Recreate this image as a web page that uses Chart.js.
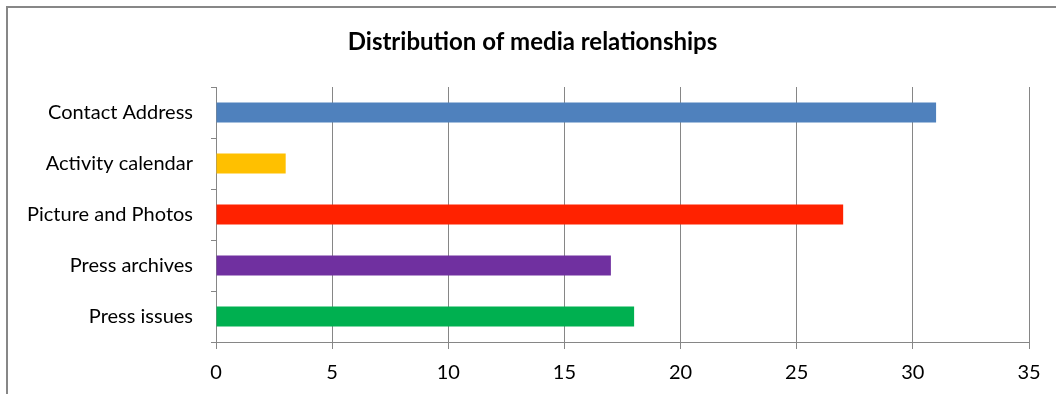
<!DOCTYPE html>
<html>
<head>
<meta charset="utf-8">
<script src="https://cdn.jsdelivr.net/npm/chart.js@4/dist/chart.umd.min.js"></script>
<style>
  html, body { margin: 0; padding: 0; background: #fff; overflow: hidden; }
  #wrap { position: relative; width: 1056px; height: 394px; }
  #frame { position: absolute; left: 6px; top: 6px; width: 2000px; height: 1000px;
           border-left: 2px solid #878787; border-top: 2px solid #878787; pointer-events: none; }
</style>
</head>
<body>
<div id="wrap">
  <canvas id="c" width="1056" height="394"></canvas>
  <div id="frame"></div>
</div>
<script>
const categories = ["Contact Address", "Activity calendar", "Picture and Photos", "Press archives", "Press issues"];
const values = [31, 3, 27, 17, 18];
const barColors = ["#4F81BD", "#FFC000", "#FF2200", "#7030A0", "#00B050"];
const xTicks = [0, 5, 10, 15, 20, 25, 30, 35];
const titleText = "Distribution of media relationships";

const FONT = "Lato, 'Open Sans', sans-serif";

// shift the title box so the title is centred like the reference
const titleShift = {
  id: "titleShift",
  afterLayout(chart) {
    if (chart.titleBlock) { chart.titleBlock.left = 36; }
  }
};

new Chart(document.getElementById("c"), {
  type: "bar",
  data: {
    labels: categories,
    datasets: [{
      data: values,
      backgroundColor: barColors,
      borderWidth: 0,
      categoryPercentage: 1,
      barPercentage: 0.39
    }]
  },
  plugins: [titleShift],
  options: {
    indexAxis: "y",
    responsive: false,
    animation: false,
    devicePixelRatio: 1,
    layout: { padding: { left: 0, right: 27, top: 0, bottom: 0 } },
    plugins: {
      legend: { display: false },
      tooltip: { enabled: false },
      title: {
        display: true,
        text: titleText,
        color: "#000",
        font: { family: FONT, size: 24, weight: "bold", lineHeight: 1.2 },
        padding: { top: 28, bottom: 30.2 }
      }
    },
    scales: {
      x: {
        min: xTicks[0],
        max: xTicks[xTicks.length - 1],
        afterBuildTicks: (s) => { s.ticks = xTicks.map(v => ({ value: v })); },
        afterFit: (s) => { s.height = 52; },
        ticks: { color: "#000", font: { family: FONT, size: 20 }, padding: 12 },
        grid: { color: "#868686", lineWidth: 1, drawTicks: true, tickLength: 7, tickColor: "#868686" },
        border: { color: "#868686", width: 1 }
      },
      y: {
        afterFit: (s) => { s.width = 216; },
        ticks: { color: "#000", font: { family: FONT, size: 20 }, padding: 18 },
        grid: { drawOnChartArea: false, drawTicks: true, tickLength: 5, color: "#868686", offset: true },
        border: { color: "#868686", width: 1 }
      }
    }
  }
});
</script>
</body>
</html>
